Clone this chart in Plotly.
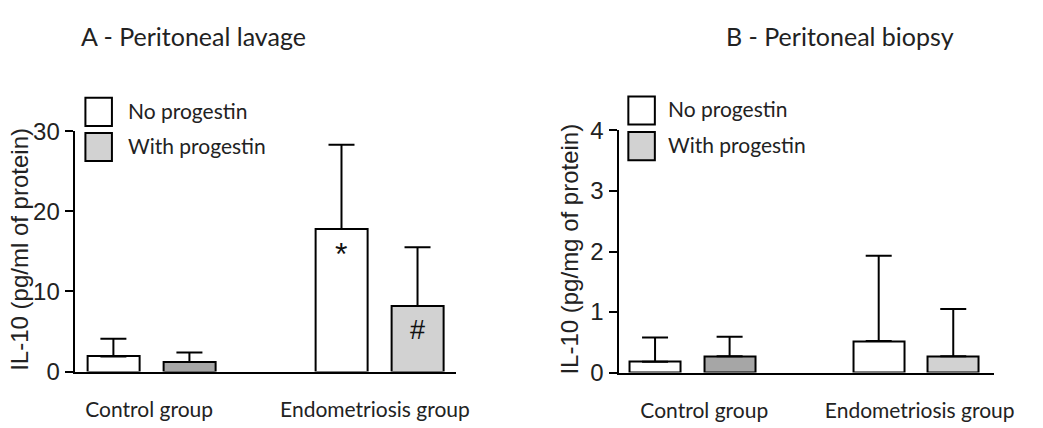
import plotly.graph_objects as go

# ---- data ----
groups = ["Control group", "Endometriosis group"]
series = ["No progestin", "With progestin"]

# Panel A - Peritoneal lavage (pg/ml of protein)
lavage_no = [1.9, 17.8]
lavage_no_err = [2.2, 10.5]
lavage_with = [1.2, 8.2]
lavage_with_err = [1.2, 7.3]

# Panel B - Peritoneal biopsy (pg/mg of protein)
biopsy_no = [0.18, 0.52]
biopsy_no_err = [0.40, 1.41]
biopsy_with = [0.27, 0.27]
biopsy_with_err = [0.32, 0.78]

marks_lavage = ["*", "#"]  # on Endometriosis bars

# ---- layout helpers ----
W, H = 1043, 428
def px(x):
    return x / W
def py(y):
    return 1 - y / H

pos_no = [0, 3]
pos_with = [1, 4]
WHITE = "#ffffff"
DARK = "#a6a6a6"
LIGHT = "#d2d2d2"
TXT = "Lato, 'Open Sans', sans-serif"
NUM = "Liberation Sans, Arial, sans-serif"

fig = go.Figure()

def add_panel(xa, ya, no_vals, no_err, with_vals, with_err):
    fig.add_trace(go.Bar(
        x=pos_no, y=no_vals, width=0.685, name=series[0],
        marker=dict(color=WHITE, line=dict(color="black", width=2)),
        error_y=dict(type="data", symmetric=False, array=no_err,
                     arrayminus=[0] * len(no_err), color="black",
                     thickness=2, width=13),
        xaxis=xa, yaxis=ya, showlegend=False, hoverinfo="skip"))
    fig.add_trace(go.Bar(
        x=pos_with, y=with_vals, width=0.685, name=series[1],
        marker=dict(color=[DARK, LIGHT], line=dict(color="black", width=2)),
        error_y=dict(type="data", symmetric=False, array=with_err,
                     arrayminus=[0] * len(with_err), color="black",
                     thickness=2, width=13),
        xaxis=xa, yaxis=ya, showlegend=False, hoverinfo="skip"))

add_panel("x", "y", lavage_no, lavage_no_err, lavage_with, lavage_with_err)
add_panel("x2", "y2", biopsy_no, biopsy_no_err, biopsy_with, biopsy_with_err)

axis_common = dict(showgrid=False, zeroline=False, showline=True,
                   linecolor="black", linewidth=2)

fig.update_layout(
    width=W, height=H,
    margin=dict(l=0, r=0, t=0, b=0),
    paper_bgcolor="white", plot_bgcolor="white",
    bargap=0,
    xaxis=dict(domain=[px(76), px(464)], range=[-0.51, 4.5], anchor="y",
               tickvals=[0.47, 3.44], ticktext=groups, ticks="",
               tickfont=dict(family=TXT, size=21, color="#222"),
               ticklabelstandoff=18, **axis_common),
    yaxis=dict(domain=[py(381.7), py(125)], range=[0, 30], anchor="x",
               tickvals=[0, 10, 20, 30], ticks="outside", ticklen=8,
               tickwidth=2, tickcolor="black",
               tickfont=dict(family=NUM, size=24, color="#222"),
               **axis_common),
    xaxis2=dict(domain=[px(630), px(1012.7)], range=[-0.49, 4.55], anchor="y2",
                tickvals=[0.66, 3.55], ticktext=groups, ticks="",
                tickfont=dict(family=TXT, size=21, color="#222"),
                ticklabelstandoff=18, **axis_common),
    yaxis2=dict(domain=[py(382.7), py(124.3)], range=[0, 4], anchor="x2",
                tickvals=[0, 1, 2, 3, 4], ticks="outside", ticklen=8,
                tickwidth=2, tickcolor="black",
                tickfont=dict(family=NUM, size=24, color="#222"),
                **axis_common),
)

annotations = []
# panel titles
annotations.append(dict(text="A - Peritoneal lavage", x=px(80), y=py(23),
                        xref="paper", yref="paper", xanchor="left", yanchor="middle",
                        showarrow=False, font=dict(family=TXT, size=25, color="#222")))
annotations.append(dict(text="B - Peritoneal biopsy", x=px(737), y=py(23),
                        xref="paper", yref="paper", xanchor="left", yanchor="middle",
                        showarrow=False, font=dict(family=TXT, size=25, color="#222")))
# y-axis titles
annotations.append(dict(text="IL-10 (pg/ml of protein)", x=px(20), y=py(251),
                        xref="paper", yref="paper", textangle=-90,
                        xanchor="center", yanchor="middle", showarrow=False,
                        font=dict(family=NUM, size=24, color="#222")))
annotations.append(dict(text="IL-10 (pg/mg of protein)", x=px(580), y=py(251),
                        xref="paper", yref="paper", textangle=-90,
                        xanchor="center", yanchor="middle", showarrow=False,
                        font=dict(family=NUM, size=24, color="#222")))
# significance marks inside Endometriosis bars (panel A)
annotations.append(dict(text=marks_lavage[0], x=pos_no[1], y=lavage_no[1],
                        xref="x", yref="y", yanchor="top", yshift=-5,
                        showarrow=False, font=dict(family=NUM, size=32, color="#111")))
annotations.append(dict(text=marks_lavage[1], x=pos_with[1], y=lavage_with[1],
                        xref="x", yref="y", yanchor="top", yshift=-7,
                        showarrow=False, font=dict(family=NUM, size=27, color="#111")))

shapes = []
# legends (drawn swatches + labels)
def legend(x0, ytop1, ytop2, xt):
    for (yt, col, lab) in [(ytop1, WHITE, series[0]), (ytop2, LIGHT, series[1])]:
        shapes.append(dict(type="rect", xref="paper", yref="paper",
                           x0=px(x0), x1=px(x0 + 27), y0=py(yt), y1=py(yt + 30),
                           fillcolor=col, line=dict(color="black", width=2)))
        annotations.append(dict(text=lab, x=px(xt), y=py(yt + 13), xref="paper",
                                yref="paper", xanchor="left", yanchor="middle",
                                showarrow=False,
                                font=dict(family=TXT, size=21, color="#222")))

legend(87, 89.5, 127, 128)
legend(640, 88, 126, 678)

fig.update_layout(annotations=annotations, shapes=shapes)
fig.write_html("out.html", config={"displayModeBar": False},
               post_script="document.body.style.margin='0';document.body.style.overflow='hidden';")
